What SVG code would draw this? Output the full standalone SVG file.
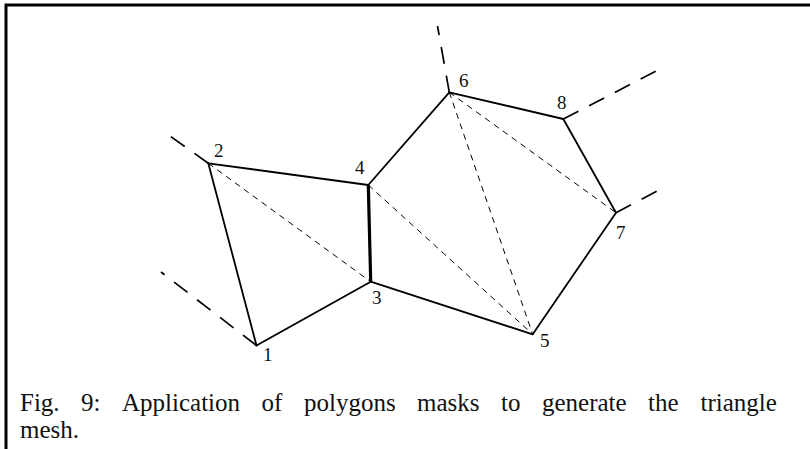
<svg xmlns="http://www.w3.org/2000/svg" width="810" height="449" viewBox="0 0 810 449">
  <style>
    .frame { stroke: #000; stroke-width: 3; fill: none; }
    .edge { stroke: #000; stroke-width: 1.8; fill: none; stroke-linecap: round; }
    .edge-bold { stroke: #000; stroke-width: 3.2; fill: none; }
    .diag { stroke: #000; stroke-width: 1; fill: none; stroke-dasharray: 6 5; }
    .ext { stroke: #000; stroke-width: 1.7; fill: none; stroke-dasharray: 17 12; }
    .lbl { font-family: "Liberation Serif", "Times New Roman", serif; font-size: 19px; fill: #111; }
    .cap { font-family: "Liberation Serif", "Times New Roman", serif; font-size: 25px; fill: #111; }
  </style>
  <rect width="810" height="449" fill="#fff"/>

  <!-- page frame: top and left rules -->
  <path class="frame" d="M6,449 V5 H810"/>

  <g id="connectors">
    <!-- mask polygon boundaries -->
    <line class="edge" x1="256.5" y1="345.5" x2="208.3" y2="163.3"/>
    <line class="edge" x1="256.5" y1="345.5" x2="370.7" y2="281.7"/>
    <line class="edge" x1="208.3" y1="163.3" x2="368.3" y2="185"/>
    <line class="edge-bold" x1="370.7" y1="281.7" x2="368.3" y2="185"/>
    <line class="edge" x1="368.3" y1="185" x2="449.3" y2="92.3"/>
    <line class="edge" x1="449.3" y1="92.3" x2="563.3" y2="119"/>
    <line class="edge" x1="563.3" y1="119" x2="616" y2="212.7"/>
    <line class="edge" x1="616" y1="212.7" x2="532.7" y2="334.3"/>
    <line class="edge" x1="370.7" y1="281.7" x2="532.7" y2="334.3"/>

    <!-- triangle diagonals -->
    <line class="diag" x1="208.3" y1="163.3" x2="370.7" y2="281.7"/>
    <line class="diag" x1="368.3" y1="185" x2="532.7" y2="334.3"/>
    <line class="diag" x1="449.3" y1="92.3" x2="532.7" y2="334.3"/>
    <line class="diag" x1="449.3" y1="92.3" x2="616" y2="212.7"/>

    <!-- open edges continuing outward -->
    <line class="ext" x1="256.5" y1="345.5" x2="161" y2="272"/>
    <line class="ext" x1="208.3" y1="163.3" x2="163" y2="131"/>
    <line class="ext" x1="449.3" y1="92.3" x2="437.5" y2="26"/>
    <line class="ext" x1="563.3" y1="119" x2="666" y2="66"/>
    <line class="ext" x1="616" y1="212.7" x2="657" y2="191"/>
  </g>

  <g id="n1"><text class="lbl" x="263" y="361">1</text></g>
  <g id="n2"><text class="lbl" x="214" y="157">2</text></g>
  <g id="n3"><text class="lbl" x="372" y="304">3</text></g>
  <g id="n4"><text class="lbl" x="355" y="174">4</text></g>
  <g id="n5"><text class="lbl" x="540" y="347">5</text></g>
  <g id="n6"><text class="lbl" x="459" y="87">6</text></g>
  <g id="n7"><text class="lbl" x="616" y="239">7</text></g>
  <g id="n8"><text class="lbl" x="557" y="109">8</text></g>

  <!-- justified caption: words spread evenly across the column -->
  <g id="caption">
    <text class="cap" y="411">
      <tspan x="20">Fig.</tspan>
      <tspan x="81">9:</tspan>
      <tspan x="122">Application</tspan>
      <tspan x="261.6">of</tspan>
      <tspan x="304">polygons</tspan>
      <tspan x="417">masks</tspan>
      <tspan x="501">to</tspan>
      <tspan x="542">generate</tspan>
      <tspan x="648">the</tspan>
      <tspan x="700.5">triangle</tspan>
    </text>
    <text class="cap" x="20" y="438">mesh.</text>
  </g>
</svg>
